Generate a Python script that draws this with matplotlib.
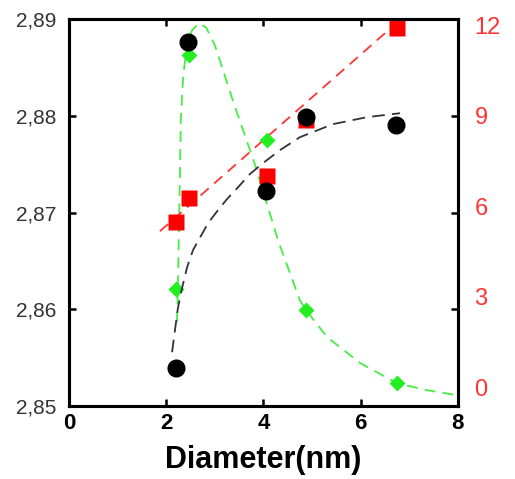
# Lattice constant and red/green quantities vs. particle diameter

import matplotlib
matplotlib.use("Agg")
import matplotlib.pyplot as plt

plt.rcParams["font.family"] = ["Liberation Sans", "DejaVu Sans"]

# measured points
diam = [2.2, 2.45, 4.05, 4.88, 6.73]
lattice = [2.8539, 2.8876, 2.8722, 2.8799, 2.8791]          # left axis, black
diam_red = [2.2, 2.47, 4.07, 4.88, 6.75]
red_vals = [5.47, 6.26, 6.99, 8.85, 11.9]                   # right axis, red
diam_green = [2.2, 2.46, 4.07, 4.88, 6.75]
green_vals = [3.25, 11.0, 8.19, 2.55, 0.13]                 # right axis, green

# dashed guide curves
black_fit_x = [2.12, 2.18, 2.24, 2.33, 2.43, 2.55, 2.70, 2.86, 3.05, 3.25,
               3.48, 3.72, 3.99, 4.34, 4.75, 5.43, 6.13, 6.81]
black_fit_y = [2.85558, 2.85786, 2.86013, 2.86230, 2.86437, 2.86612, 2.86747,
               2.86891, 2.87016, 2.87140, 2.87264, 2.87398, 2.87512, 2.87646,
               2.87780, 2.87915, 2.87987, 2.88028]
red_fit_x = [1.87, 6.9]
red_fit_y = [5.17, 12.3]
green_fit_x = [2.22, 2.24, 2.26, 2.28, 2.30, 2.35, 2.43, 2.53, 2.67, 2.82,
               3.00, 3.37, 3.83, 4.30, 4.75, 4.88, 5.31, 5.99, 6.75, 7.37, 8.00]
green_fit_y = [2.15, 3.22, 5.10, 6.86, 8.85, 10.34, 11.34, 11.83, 12.06, 11.93,
               11.34, 9.51, 7.36, 4.87, 2.88, 2.55, 1.66, 0.80, 0.13, -0.10, -0.27]

xticks = [0, 2, 4, 6, 8]
left_ticks = [2.85, 2.86, 2.87, 2.88, 2.89]
left_labels = ["2,85", "2,86", "2,87", "2,88", "2,89"]
right_ticks = [0, 3, 6, 9, 12]

fig = plt.figure(figsize=(5.15, 4.79), dpi=100)
ax = fig.add_axes([0.134, 0.152, 0.755, 0.808])
ax2 = ax.twinx()

dash = (0, (6, 4))

# right axis: red and green
ax2.plot(green_fit_x, green_fit_y, linestyle=dash, color="#44ee44", lw=1.3)
ax2.plot(red_fit_x, red_fit_y, linestyle=dash, color="#ff3333", lw=1.3)
ax2.plot(diam_green, green_vals, "D", color="#22ee22", ms=8, mec="none")
ax2.plot(diam_red, red_vals, "s", color="#ff0000", ms=12, mec="none")
ax2.set_ylim(-0.63, 12.2)
ax2.set_yticks(right_ticks)
ax2.tick_params(axis="y", length=0, pad=12, labelsize=17, labelcolor="#ff3333")

# left axis: black, drawn on top
ax.set_zorder(ax2.get_zorder() + 1)
ax.patch.set_visible(False)
ax.plot(black_fit_x, black_fit_y, linestyle=(0, (7, 4)), color="#333333", lw=1.3)
ax.plot(diam, lattice, "o", color="black", ms=12)

ax.set_xlim(0, 8)
ax.set_ylim(2.85, 2.89)
ax.set_xticks(xticks)
ax.set_yticks(left_ticks)
ax.set_yticklabels(left_labels)
ax.tick_params(direction="in", top=True, right=True, length=5, width=1.8)
ax.tick_params(axis="y", pad=9, labelsize=15, labelcolor="#333333")
ax.tick_params(axis="x", pad=5, labelsize=16)
for lab in ax.get_xticklabels():
    lab.set_fontweight("bold")
ax.set_xlabel("Diameter(nm)", fontsize=22, fontweight="bold", labelpad=8)

for a in (ax, ax2):
    for s in a.spines.values():
        s.set_linewidth(2.2)

fig.savefig("out.png", dpi=100)
